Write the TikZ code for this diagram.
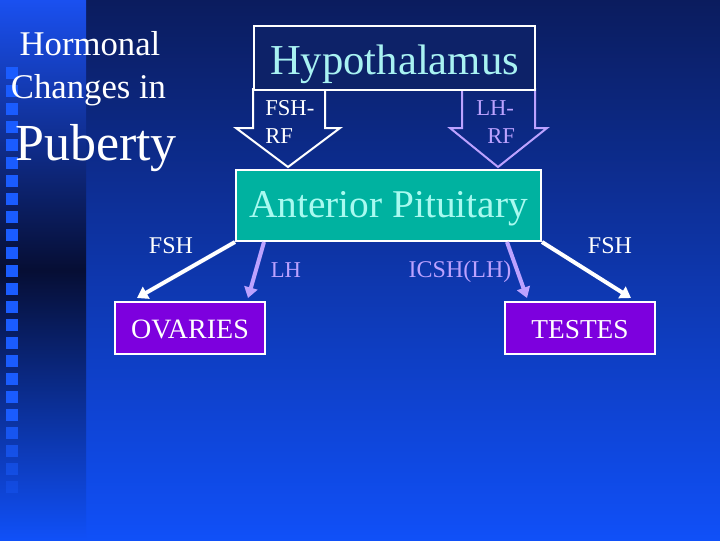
\documentclass[tikz,border=0pt]{standalone}
\usepackage{fontspec}
\setmainfont{Liberation Serif}
\usetikzlibrary{arrows.meta,calc}
\definecolor{bgtop}{HTML}{0B1C5E}
\definecolor{bgbot}{HTML}{1050F8}
\definecolor{striptop}{HTML}{1A50F0}
\definecolor{stripmid}{HTML}{060E34}
\definecolor{sq}{HTML}{1A5CFF}
\definecolor{hypofill}{HTML}{0D2268}
\definecolor{hypotext}{HTML}{A8F2F2}
\definecolor{apfill}{HTML}{00B2A0}
\definecolor{aptext}{HTML}{A8FAF0}
\definecolor{purp}{HTML}{7D00DE}
\definecolor{lav}{HTML}{BCA2FF}
\begin{document}
\begin{tikzpicture}[x=0.75pt,y=-0.75pt,
  boxnode/.style={draw=white,line width=1.5pt,inner sep=0pt,anchor=north west,align=center},
  lbl/.style={anchor=base,inner sep=0pt,font=\fontsize{18}{20}\selectfont},
  titletext/.style={anchor=base,inner sep=0pt,text=white},
  blockarrow/.style={line width=1.5pt,line join=miter},
  conn/.style={line width=3pt,-{Triangle[length=8pt,width=10pt]}},
  rftext/.style={anchor=base west,inner sep=0pt,font=\fontsize{17}{19}\selectfont}]
\useasboundingbox (0,0) rectangle (720,540);
% background
\shade[top color=bgtop,bottom color=bgbot] (0,0) rectangle (720,540);
\shade[top color=striptop,bottom color=bgbot,middle color=stripmid] (0,0) rectangle (86,540);
\foreach \i in {0,...,23}{
  \pgfmathsetmacro\op{min(1,(25-\i)/6)}
  \fill[sq,opacity=\op] (6,{67+18*\i}) rectangle (18,{79+18*\i});
}
% title
\node[titletext,font=\fontsize{26}{28}\selectfont] (t1) at (90,55) {Hormonal};
\node[titletext,font=\fontsize{26}{28}\selectfont] (t2) at (88.5,98) {Changes in};
\node[titletext,font=\fontsize{39}{42}\selectfont] (t3) at (96,160) {Puberty};
% block arrows
\draw[blockarrow,white] (253,89) -- (325,89) -- (325,128) -- (340,128) -- (288,167) -- (236,128) -- (253,128) -- cycle;
\draw[blockarrow,lav] (462,89) -- (535,89) -- (535,128) -- (547,128) -- (498,167) -- (450,128) -- (462,128) -- cycle;
\node[rftext,text=white] (f1) at (265,115) {FSH-};
\node[rftext,text=white] (f2) at (265,143) {RF};
\node[rftext,text=lav] (l1) at (476,115) {LH-};
\node[rftext,text=lav] (l2) at (487,143) {RF};
% boxes
\node[boxnode,fill=hypofill,text=hypotext,minimum width=210.75pt,text height=36pt,text depth=12pt,
  font=\fontsize{32}{34}\selectfont] (hyp) at (253,25) {Hypothalamus};
\node[boxnode,fill=apfill,text=aptext,minimum width=228.75pt,text height=35.25pt,text depth=18pt,
  font=\fontsize{29.5}{32}\selectfont] (ap) at (235,169) {Anterior Pituitary};
\node[boxnode,fill=purp,text=white,minimum width=112.5pt,text height=27pt,text depth=12pt,
  font=\fontsize{21}{23}\selectfont] (ov) at (114,301) {OVARIES};
\node[boxnode,fill=purp,text=white,minimum width=112.5pt,text height=27pt,text depth=12pt,
  font=\fontsize{20.5}{23}\selectfont] (te) at (504,301) {TESTES};
% connectors
\draw[conn,white] (ap.south west) -- ($(ov.north west)+(23,-3)$);
\draw[conn,lav] ($(ap.south west)+(29,0)$) -- ($(ov.north east)+(-18,-3)$);
\draw[conn,lav] ($(ap.south east)+(-35,0)$) -- ($(te.north west)+(23,-3)$);
\draw[conn,white] (ap.south east) -- ($(te.north east)+(-25,-3)$);
% labels
\node[lbl,text=white] (fshl) at (171,253) {FSH};
\node[lbl,text=lav,font=\fontsize{17}{19}\selectfont] (lhl) at (286,277) {LH};
\node[lbl,text=lav] (icsh) at (460,277) {ICSH(LH)};
\node[lbl,text=white] (fshr) at (610,253) {FSH};
\end{tikzpicture}
\end{document}
